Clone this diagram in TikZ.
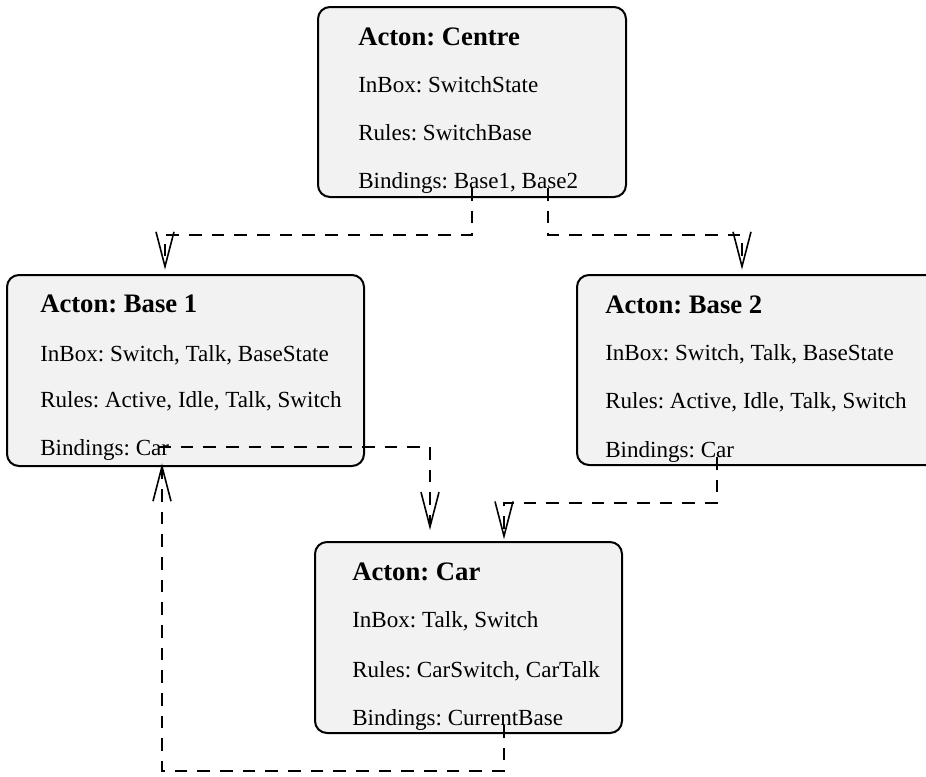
\documentclass[tikz,border=0pt]{standalone}
\usepackage{fontspec}
\setmainfont{Liberation Serif}
\usetikzlibrary{arrows.meta}
\frenchspacing
\begin{document}
\begin{tikzpicture}[x=0.75pt,y=-0.75pt,
  acton/.style={draw=black, line width=1.5pt, rounded corners=9pt, fill=black!5,
    inner sep=0pt, outer sep=0pt, anchor=north west},
  title/.style={anchor=base west, inner sep=0pt, font=\fontsize{20}{24}\selectfont\bfseries},
  entry/.style={anchor=base west, inner sep=0pt, font=\fontsize{17.3}{20}\selectfont},
  link/.style={line width=1.2pt, dash pattern=on 9.5pt off 7.5pt,
    -{Straight Barb[length=26pt,width=13.5pt,line width=1.2pt]}}
]
\useasboundingbox (0,0) rectangle (926,776);
\clip (0,0) rectangle (926,776);

% acton boxes
\node[acton, minimum width=231pt,    minimum height=142.5pt]  (centre) at (318,7)   {};
\node[acton, minimum width=267.75pt, minimum height=143.25pt] (base1)  at (7,275)   {};
\node[acton, minimum width=300pt,    minimum height=142.5pt]  (base2)  at (577,275) {};
\node[acton, minimum width=230.25pt, minimum height=143.25pt] (car)    at (315,542) {};

% Centre
\node[title] (centreT) at (358,45)  {Acton: Centre};
\node[entry] (centreI) at (358,92)  {InBox: SwitchState};
\node[entry] (centreR) at (358,140) {Rules: SwitchBase};
\node[entry] (centreB) at (358,188) {Bindings: Base1, Base2};

% Base 1
\node[title] (base1T) at (40,312) {Acton: Base 1};
\node[entry] (base1I) at (40,361) {InBox: Switch, Talk, BaseState};
\node[entry] (base1R) at (40,407) {Rules: Active, Idle, Talk, Switch};
\node[entry] (base1B) at (40,455) {Bindings: Car};

% Base 2
\node[title] (base2T) at (605,313) {Acton: Base 2};
\node[entry] (base2I) at (605,360) {InBox: Switch, Talk, BaseState};
\node[entry] (base2R) at (605,408) {Rules: Active, Idle, Talk, Switch};
\node[entry] (base2B) at (605,457) {Bindings: Car};

% Car
\node[title] (carT) at (352,580) {Acton: Car};
\node[entry] (carI) at (352,627) {InBox: Talk, Switch};
\node[entry] (carR) at (352,677) {Rules: CarSwitch, CarTalk};
\node[entry] (carB) at (352,725) {Bindings: CurrentBase};

% binding sources and bends
\coordinate (s1) at (472,188);  \coordinate (k1) at (165,235);
\coordinate (s2) at (548,188);  \coordinate (k2) at (742,235);
\coordinate (s3) at (158,447);  \coordinate (k3) at (430,447);
\coordinate (s4) at (717,457);  \coordinate (k4) at (504,503);
\coordinate (s5) at (504,725);  \coordinate (k5) at (162,771);

% bindings
\draw[link, shorten >=4pt] (s1) |- (k1) -- (k1 |- base1.north);
\draw[link, shorten >=4pt] (s2) |- (k2) -- (k2 |- base2.north);
\draw[link, shorten >=9pt] (s3) -- (k3) -- (k3 |- car.north);
\draw[link, shorten >=2pt] (s4) |- (k4) -- (k4 |- car.north);
\draw[link, shorten >=-2pt] (s5) |- (k5) -- (k5 |- base1.south);
\end{tikzpicture}
\end{document}
